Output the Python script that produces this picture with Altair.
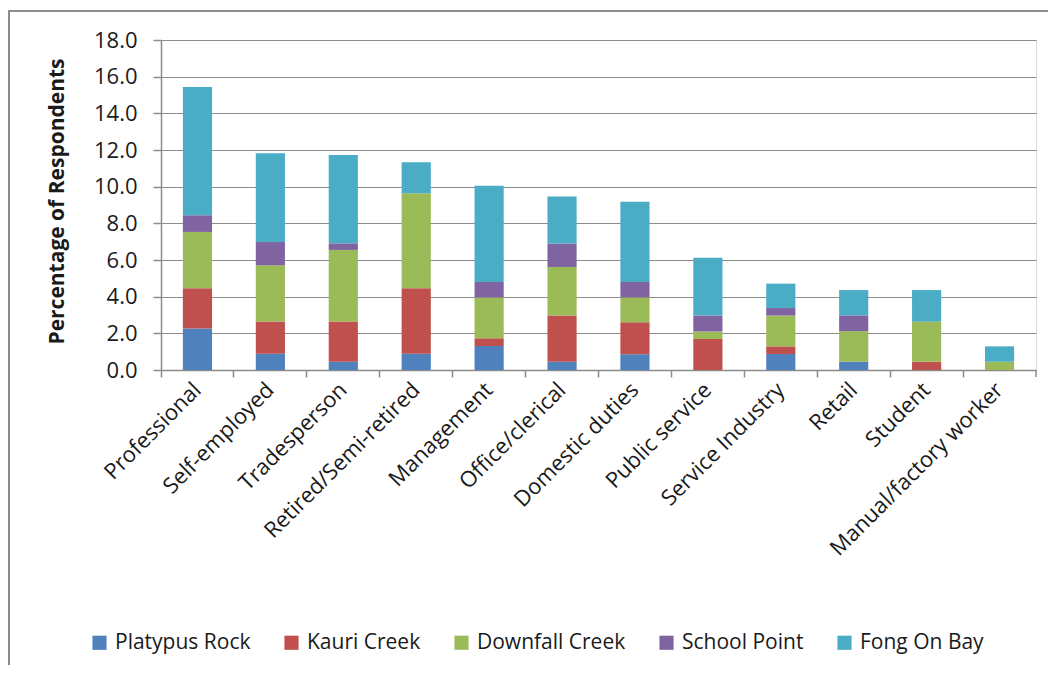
import altair as alt
import pandas as pd

categories = ["Professional", "Self-employed", "Tradesperson", "Retired/Semi-retired",
              "Management", "Office/clerical", "Domestic duties", "Public service",
              "Service Industry", "Retail", "Student", "Manual/factory worker"]
series = ["Platypus Rock", "Kauri Creek", "Downfall Creek", "School Point", "Fong On Bay"]
colors = ["#4F81BD", "#C0504D", "#9BBB59", "#8064A2", "#4BACC6"]

platypus_rock = [2.27, 0.89, 0.45, 0.89, 1.31, 0.45, 0.86, 0.00, 0.87, 0.45, 0.00, 0.00]
kauri_creek = [2.19, 1.75, 2.19, 3.57, 0.42, 2.52, 1.74, 1.69, 0.42, 0.00, 0.45, 0.00]
downfall_creek = [3.07, 3.07, 3.91, 5.18, 2.23, 2.65, 1.36, 0.41, 1.68, 1.67, 2.19, 0.45]
school_point = [0.91, 1.27, 0.36, 0.00, 0.84, 1.28, 0.84, 0.87, 0.41, 0.86, 0.00, 0.00]
fong_on_bay = [7.00, 4.84, 4.82, 1.69, 5.25, 2.57, 4.38, 3.15, 1.33, 1.38, 1.72, 0.84]

y_ticks = [0, 2, 4, 6, 8, 10, 12, 14, 16, 18]

rows = []
for si, (name, vals) in enumerate(zip(series, [platypus_rock, kauri_creek, downfall_creek,
                                               school_point, fong_on_bay])):
    for c, v in zip(categories, vals):
        rows.append({"Occupation": c, "Site": name, "Percent": v, "order": si})
df = pd.DataFrame(rows)

FONT = "Open Sans"
TXT = "#1a1a1a"
GRID = "#8c8c8c"
W, H = 875, 330

bars = alt.Chart(df).mark_bar(width={"band": 0.4}).encode(
    x=alt.X("Occupation:N", sort=categories,
            scale=alt.Scale(paddingInner=0, paddingOuter=0),
            axis=alt.Axis(title=None, labelAngle=-45, labelAlign="right",
                          labelBaseline="middle", labelFontSize=22, labelFont=FONT,
                          labelColor=TXT, bandPosition=0, labelLimit=0,
                          labelPadding=9, tickSize=7, tickColor=GRID, tickWidth=1.5,
                          domainColor=GRID, domainWidth=1.5, grid=False)),
    y=alt.Y("Percent:Q", stack="zero",
            scale=alt.Scale(domain=[0, 18], nice=False),
            axis=alt.Axis(title="Percentage of Respondents", values=y_ticks, format=".1f",
                          labelFontSize=22, labelFont=FONT, labelColor=TXT,
                          labelPadding=16, tickSize=8, tickColor=GRID, tickWidth=1.5,
                          domainColor=GRID, domainWidth=1.5,
                          gridColor=GRID, gridWidth=1.2,
                          titleFont=FONT, titleFontSize=21, titleFontWeight="bold",
                          titleColor=TXT, titleAngle=-90, titleX=-104, titleY=H / 2 - 4,
                          titleAlign="center", titleBaseline="middle")),
    color=alt.Color("Site:N", sort=series,
                    scale=alt.Scale(domain=series, range=colors),
                    legend=alt.Legend(title=None, orient="none", direction="horizontal",
                                      legendX=-72, legendY=592, columns=5,
                                      symbolType="square", symbolSize=200,
                                      symbolStrokeWidth=0, labelFontSize=21,
                                      labelFont=FONT, labelColor=TXT, columnPadding=30,
                                      labelOffset=5)),
    order=alt.Order("order:Q"),
)

one = pd.DataFrame({"k": [0]})
last_tick = alt.Chart(one).mark_rule(color=GRID, strokeWidth=1.5).encode(
    x=alt.value(W), y=alt.value(H), y2=alt.value(H + 7))
frame_left = alt.Chart(one).mark_rule(color="#8c8c8c", strokeWidth=2).encode(
    x=alt.value(-152), y=alt.value(-30), y2=alt.value(H + 300))
frame_top = alt.Chart(one).mark_rule(color="#8c8c8c", strokeWidth=2).encode(
    x=alt.value(-152), x2=alt.value(W + 20), y=alt.value(-29))

chart = alt.layer(bars, last_tick, frame_left, frame_top).properties(
    width=W, height=H,
    autosize=alt.AutoSizeParams(type="none"),
    padding={"left": 153, "top": 32, "right": 12, "bottom": 295},
).configure_view(stroke=None).configure(font=FONT)

chart.save("out.html", embed_options={"renderer": "svg", "actions": False})
